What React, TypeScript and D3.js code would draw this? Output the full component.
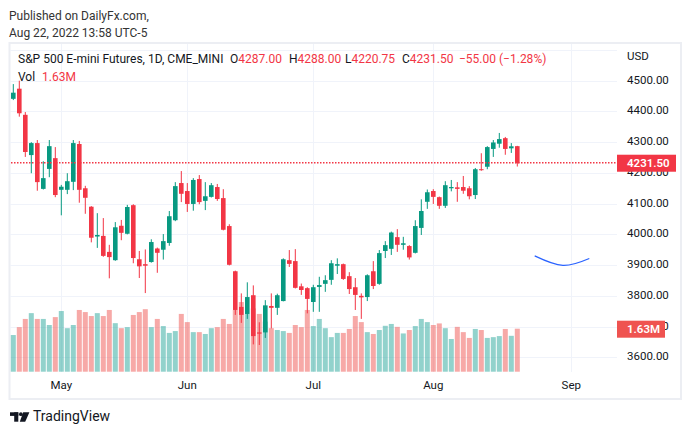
import React from 'react';
import * as d3 from 'd3';

const opens = [4441,4474,4389,4258,4297,4148,4213,4248,4145,4145,4171,4294,4150,4090,3993,3995,3943,3916,4028,4002,4095,3919,3903,3910,3954,3950,3972,4046,4167,4141,4099,4180,4109,4122,4154,4118,4027,3880,3764,3741,3802,3681,3681,3767,3761,3783,3916,3913,3831,3825,3780,3829,3839,3852,3898,3903,3864,3828,3800,3796,3880,3839,3946,3953,3991,3966,3962,3940,4021,4106,4141,4121,4093,4150,4153,4154,4150,4128,4212,4220,4278,4295,4313,4280,4287];
const highs = [4489,4500,4398,4300,4307,4238,4307,4284,4161,4199,4307,4304,4158,4092,4069,4053,3966,4040,4047,4096,4098,3946,3951,3984,3957,4001,4076,4170,4206,4167,4183,4193,4170,4167,4164,4147,4033,3882,3808,3844,3834,3714,3786,3808,3807,3922,3949,3952,3840,3828,3836,3862,3867,3916,3922,3905,3877,3858,3808,3870,3913,3949,3978,4009,4017,3992,3965,4046,4114,4146,4147,4123,4173,4177,4170,4190,4157,4216,4264,4287,4307,4330,4317,4297,4288];
const lows = [4437,4383,4252,4199,4142,4146,4186,4121,4062,4131,4144,4103,4067,3974,3956,3927,3857,3914,3981,4000,3906,3858,3809,3908,3875,3918,3963,4043,4105,4073,4077,4098,4079,4120,4109,4013,3899,3738,3712,3725,3642,3640,3663,3694,3738,3782,3894,3824,3803,3743,3748,3748,3813,3836,3871,3852,3806,3754,3725,3783,3822,3836,3923,3933,3943,3950,3918,3938,3998,4083,4099,4083,4086,4140,4106,4132,4114,4115,4207,4212,4252,4282,4259,4265,4220.75];
const closes = [4461,4394,4268,4297,4170,4183,4287,4128,4155,4173,4297,4145,4119,3989,3998,3930,3926,4023,4005,4089,3923,3896,3898,3975,3940,3978,4059,4157,4132,4099,4177,4105,4124,4160,4115,4015,3901,3754,3738,3796,3669,3677,3769,3761,3802,3919,3904,3826,3819,3790,3828,3835,3851,3906,3903,3855,3822,3803,3795,3867,3832,3939,3965,4006,3966,3971,3925,4027,4076,4137,4122,4093,4160,4154,4148,4142,4124,4212,4209,4284,4299,4310,4278,4286.5,4231.5];
const volumes = [1.39,1.69,2.0,2.22,2.0,2.0,1.77,2.07,2.3,1.65,1.77,2.34,2.26,2.11,2.22,2.11,2.34,1.84,1.65,1.69,2.15,2.26,2.37,1.69,2.0,1.73,1.47,1.54,2.19,1.88,1.5,1.5,1.43,1.65,1.69,2.0,1.81,2.34,2.64,2.19,2.4,2.19,1.9,1.65,1.58,1.54,1.47,1.77,1.69,2.34,1.73,2.0,1.65,1.31,1.47,1.47,1.62,2.11,1.88,1.5,1.43,1.58,1.74,1.81,1.70,1.45,1.58,1.73,2.0,1.88,1.77,1.83,1.65,1.24,1.70,1.50,1.28,1.62,1.58,1.28,1.31,1.35,1.62,1.36,1.63];

const monthLabels = ['May', 'Jun', 'Jul', 'Aug', 'Sep'];
const monthIdx = [8, 29, 50, 70, 93];
const priceTicks = [3600, 3700, 3800, 3900, 4000, 4100, 4200, 4300, 4400, 4500];
const gridPrices = [3600, 3700, 3800, 3900, 4000, 4100, 4200, 4300, 4400, 4500, 4600];
const arcIdx = [86.9, 91.6, 96.0];
const arcPrice = [3930, 3899, 3921.5];

const UP = '#089981';
const DOWN = '#f23645';
const UP_VOL = 'rgba(38,166,154,0.5)';
const DOWN_VOL = 'rgba(239,83,80,0.5)';
const GRID = '#f0f3fa';
const TEXT = '#131722';
const FONT = 'Roboto, "Noto Sans", sans-serif';

export default function App() {
  const W = 691, H = 435;
  const left = 10, right = 617, top = 44, bottom = 372;
  const n = closes.length;
  const x = d3.scaleLinear().domain([0, n - 1]).range([13.3, 517.3]);
  const y = d3.scaleLinear().domain([3600, 4500]).range([357.3, 80.7]);
  const yv = d3.scaleLinear().domain([0, 1.63]).range([371.7, 328.7]);
  const bodyW = 4.6;
  const volW = 5;

  const last = n - 1;
  const lastC = closes[last];
  const chg = lastC - closes[last - 1];
  const pct = (chg / closes[last - 1]) * 100;
  const fmt = d3.format('.2f');
  const minus = (v: number) => (v < 0 ? '\u2212' + fmt(-v) : '+' + fmt(v));
  const legendColor = closes[last] >= opens[last] ? UP : DOWN;
  const volText = fmt(volumes[last]) + 'M';

  const arcLine = d3.line<number>()
    .x((_, i) => x(arcIdx[i]))
    .y((_, i) => y(arcPrice[i]))
    .curve(d3.curveNatural);

  const idxs = d3.range(n);
  const yLast = Math.round(y(lastC)) - 0.5;
  const dots = d3.range(left + 1, right, 3);

  return (
    <svg width={W} height={H} style={{ position: 'absolute', left: 0, top: 0, background: '#fff' }} fontFamily={FONT}>
      <rect x={0} y={0} width={W} height={H} fill="#fff" />
      <text x={9} y={20} fontSize={12} fill="#333">Published on DailyFx.com,</text>
      <text x={9} y={37} fontSize={12} fill="#333">Aug 22, 2022 13:58 UTC-5</text>

      {/* frame */}
      <rect x={9.5} y={43} width={671.5} height={356} fill="none" stroke="#eceef3" strokeWidth={2} />

      <clipPath id="pane"><rect x={left} y={top} width={right - left} height={bottom - top} /></clipPath>
      <g clipPath="url(#pane)">
        {gridPrices.map(p => (
          <line key={'h' + p} x1={left} x2={right} y1={Math.round(y(p)) + 0.5} y2={Math.round(y(p)) + 0.5} stroke={GRID} strokeWidth={1} />
        ))}
        {monthIdx.map(i => (
          <line key={'v' + i} x1={Math.round(x(i)) + 0.5} x2={Math.round(x(i)) + 0.5} y1={top} y2={bottom} stroke={GRID} strokeWidth={1} />
        ))}
        {idxs.map(i => (
          <rect key={'vol' + i} x={x(i) - volW / 2} y={yv(volumes[i])} width={volW} height={yv(0) - yv(volumes[i])}
            fill={closes[i] >= opens[i] ? UP_VOL : DOWN_VOL} />
        ))}
        {idxs.map(i => {
          const c = closes[i] >= opens[i] ? UP : DOWN;
          const yt = y(Math.max(opens[i], closes[i]));
          const yb = y(Math.min(opens[i], closes[i]));
          return (
            <g key={'c' + i}>
              <rect x={x(i) - 0.5} y={y(highs[i])} width={1} height={y(lows[i]) - y(highs[i])} fill={c} />
              <rect x={x(i) - bodyW / 2} y={yt} width={bodyW} height={Math.max(1, yb - yt)} fill={c} />
            </g>
          );
        })}
        {dots.map(d => (
          <rect key={'d' + d} x={d} y={yLast - 0.5} width={1.5} height={1.5} fill={DOWN} />
        ))}
        <path d={arcLine(arcIdx) || ''} fill="none" stroke="#2962ff" strokeWidth={1.2} />
      </g>

      {/* legend */}
      <text x={18} y={63} fontSize={12} fill={TEXT}>
        <tspan>S&amp;P 500 E-mini Futures, 1D, CME_MINI</tspan>
        <tspan x={230}>O</tspan><tspan fill={legendColor}>{fmt(opens[last])}</tspan>
        <tspan x={289}>H</tspan><tspan fill={legendColor}>{fmt(highs[last])}</tspan>
        <tspan x={345}>L</tspan><tspan fill={legendColor}>{fmt(lows[last])}</tspan>
        <tspan x={402}>C</tspan><tspan fill={legendColor}>{fmt(lastC)}</tspan>
        <tspan x={459} fill={legendColor}>{minus(chg)} ({minus(pct)}%)</tspan>
      </text>
      <text x={18} y={81} fontSize={12} fill={TEXT}>
        <tspan>Vol</tspan><tspan x={42} fill={legendColor}>{volText}</tspan>
      </text>

      {/* price axis */}
      <text x={627} y={57} fontSize={11.5} fill={TEXT} dominantBaseline="middle">USD</text>
      {priceTicks.map(p => (
        <text key={'pt' + p} x={627} y={y(p)} fontSize={11.5} fill={TEXT} dominantBaseline="middle">{fmt(p)}</text>
      ))}
      <rect x={617} y={y(lastC) - 8.5} width={59} height={17} fill={DOWN} />
      <text x={627} y={y(lastC) + 0.5} fontSize={11.5} fill="#fff" fontWeight={600} dominantBaseline="middle">{fmt(lastC)}</text>
      <rect x={617} y={yv(volumes[last]) - 8} width={48} height={17} fill="#ef5350" />
      <text x={627} y={yv(volumes[last]) + 0.8} fontSize={11.5} fill="#fff" fontWeight={600} dominantBaseline="middle">{volText}</text>

      {/* time axis */}
      {monthLabels.map((m, k) => (
        <text key={m} x={x(monthIdx[k])} y={386} fontSize={11.5} fill={TEXT} textAnchor="middle" dominantBaseline="middle">{m}</text>
      ))}

      {/* TradingView logo */}
      <g fill={TEXT}>
        <rect x={10} y={412.3} width={8.3} height={3.6} />
        <rect x={14.2} y={412.3} width={4.1} height={9.4} />
        <circle cx={20.9} cy={414.2} r={1.9} />
        <polygon points="23.2,412.3 29.4,412.3 25.2,421.7 19.8,421.7" />
      </g>
      <text x={33} y={417} fontSize={14} fill={TEXT} dominantBaseline="middle">TradingView</text>
    </svg>
  );
}
